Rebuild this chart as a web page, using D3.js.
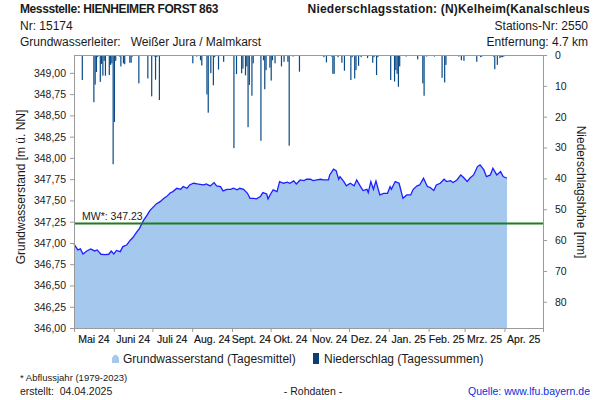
<!DOCTYPE html>
<html><head><meta charset="utf-8">
<script src="https://cdn.jsdelivr.net/npm/d3@7"></script>
<style>
html,body{margin:0;padding:0;background:#fff;}
svg{display:block;font-family:"Liberation Sans",Arial,sans-serif;}
</style></head>
<body>
<svg id="chart" width="600" height="400"></svg>
<script>
// ---------------- data ----------------
const gwDates = ["2024-05-01","2024-05-04","2024-05-06","2024-05-08","2024-05-11","2024-05-14","2024-05-17","2024-05-19","2024-05-22","2024-05-25","2024-05-28","2024-05-30",
"2024-06-01","2024-06-03","2024-06-06","2024-06-08","2024-06-11","2024-06-14","2024-06-16","2024-06-19","2024-06-21","2024-06-24","2024-06-27","2024-06-29",
"2024-07-02","2024-07-04","2024-07-07","2024-07-10","2024-07-12","2024-07-15","2024-07-17","2024-07-20","2024-07-23","2024-07-25","2024-07-28","2024-07-30",
"2024-08-02","2024-08-05","2024-08-07","2024-08-10","2024-08-12","2024-08-15","2024-08-18","2024-08-20","2024-08-23","2024-08-25","2024-08-28","2024-08-31",
"2024-09-02","2024-09-05","2024-09-07","2024-09-10","2024-09-13","2024-09-15","2024-09-18","2024-09-20","2024-09-23","2024-09-25","2024-09-28","2024-09-29",
"2024-10-01","2024-10-03","2024-10-06","2024-10-08","2024-10-11","2024-10-14","2024-10-16","2024-10-19","2024-10-21","2024-10-24","2024-10-27","2024-10-29",
"2024-11-01","2024-11-03","2024-11-06","2024-11-09","2024-11-11","2024-11-15","2024-11-16","2024-11-19","2024-11-21","2024-11-23","2024-11-24","2024-11-27","2024-11-29",
"2024-12-02","2024-12-05","2024-12-07","2024-12-10","2024-12-12","2024-12-15","2024-12-16","2024-12-18","2024-12-20","2024-12-22","2024-12-25","2024-12-28","2024-12-31",
"2025-01-02","2025-01-03","2025-01-06","2025-01-09","2025-01-10","2025-01-12","2025-01-15","2025-01-18","2025-01-20","2025-01-23","2025-01-25","2025-01-28","2025-01-31",
"2025-02-02","2025-02-05","2025-02-07","2025-02-10","2025-02-13","2025-02-15","2025-02-18","2025-02-20","2025-02-23","2025-02-26","2025-02-28",
"2025-03-03","2025-03-05","2025-03-08","2025-03-11","2025-03-13","2025-03-16","2025-03-18","2025-03-21","2025-03-23","2025-03-26","2025-03-29","2025-03-31",
"2025-04-03"];
const gwLevels = [346.985,346.918,346.930,346.871,346.906,346.929,346.906,346.918,346.867,346.863,346.867,346.905,
346.870,346.912,346.898,346.957,346.976,347.035,347.067,347.133,347.172,347.262,347.330,347.380,
347.427,347.459,347.486,347.525,347.545,347.590,347.604,347.643,347.631,347.663,347.643,347.682,
347.702,347.694,347.690,347.682,347.694,347.671,347.710,347.671,347.663,347.612,347.631,347.631,
347.643,347.624,347.643,347.631,347.584,347.525,347.525,347.518,347.545,347.592,347.576,347.518,
347.576,347.624,347.604,347.722,347.702,347.714,347.702,347.730,347.694,347.741,347.733,347.749,
347.749,347.733,347.741,347.749,347.741,347.741,347.800,347.867,347.851,347.749,347.780,347.722,347.671,
347.702,347.671,347.741,347.663,347.616,347.631,347.592,347.722,347.631,347.729,347.565,347.584,347.584,
347.663,347.631,347.722,347.702,347.643,347.525,347.565,347.565,347.631,347.671,347.682,347.761,347.663,
347.655,347.616,347.682,347.702,347.749,347.722,347.733,347.710,347.741,347.800,347.773,
347.722,347.761,347.800,347.898,347.918,347.859,347.780,347.800,347.878,347.800,347.839,347.780,
347.761];

const prDates = ["2024-05-07","2024-05-08","2024-05-16","2024-05-17","2024-05-18","2024-05-19","2024-05-21","2024-05-22","2024-05-23","2024-05-24","2024-05-25","2024-05-28","2024-05-29","2024-05-30","2024-05-31",
"2024-06-01","2024-06-02","2024-06-05","2024-06-06","2024-06-08","2024-06-09","2024-06-13","2024-06-14","2024-06-15","2024-06-20","2024-06-27","2024-06-30",
"2024-07-02","2024-07-03","2024-07-04","2024-07-06","2024-07-07",
"2024-08-01","2024-08-04","2024-08-07","2024-08-08","2024-08-12","2024-08-13","2024-08-15","2024-08-17","2024-08-18","2024-08-21","2024-08-25",
"2024-09-02","2024-09-04","2024-09-08","2024-09-09","2024-09-11","2024-09-12","2024-09-13","2024-09-14","2024-09-16","2024-09-17","2024-09-23","2024-09-25","2024-09-26","2024-09-27","2024-09-30",
"2024-10-01","2024-10-02","2024-10-04","2024-10-09","2024-10-11","2024-10-14","2024-10-15","2024-10-18","2024-10-23",
"2024-11-11","2024-11-13","2024-11-17","2024-11-18","2024-11-19","2024-11-22","2024-11-25","2024-11-27",
"2024-12-02","2024-12-03","2024-12-05","2024-12-06","2024-12-08","2024-12-10","2024-12-15","2024-12-19","2024-12-20","2024-12-22","2024-12-23",
"2025-01-02","2025-01-05","2025-01-06","2025-01-07","2025-01-08","2025-01-09","2025-01-14","2025-01-23","2025-01-27","2025-01-28","2025-01-30",
"2025-02-05","2025-02-11","2025-02-13","2025-02-14","2025-02-24","2025-02-26","2025-02-28",
"2025-03-10","2025-03-13","2025-03-14","2025-03-23","2025-03-24","2025-03-26","2025-03-28","2025-03-29","2025-03-30","2025-03-31"];
const prValues = [8.1,0.2,15.3,9.6,5.5,0.7,8.7,2.9,6.7,1.9,6.7,6.5,3.2,2.7,35.4,
21.7,1.9,0.5,3.7,2.7,3.0,2.5,2.5,0.5,9.2,7.6,13.4,
0.5,8.0,0.7,14.6,0.3,
2.7,0.5,1.7,3.4,12.8,18.7,5.9,9.8,0.7,4.7,2.2,
30.2,6.2,5.9,4.4,6.6,3.7,23.4,9.7,13.2,2.7,27.8,1.7,11.1,4.9,4.1,
8.3,1.7,2.7,3.7,2.2,2.2,29.4,0.5,5.4,
0.7,2.4,0.5,6.1,6.1,0.7,2.5,5.1,
8.1,0.7,7.6,4.9,3.5,0.7,1.0,2.5,0.7,6.5,0.7,
8.1,8.6,4.9,6.1,10.3,3.7,0.5,1.4,9.2,13.2,0.5,
0.5,7.4,8.9,3.2,0.5,1.7,1.9,
2.2,0.7,0.5,0.5,4.6,3.2,1.0,0.7,0.7,0.5];

const monthLabels = ["Mai 24","Juni 24","Juli 24","Aug. 24","Sept. 24","Okt. 24","Nov. 24","Dez. 24","Jan. 25","Feb. 25","Mrz. 25","Apr. 25"];
const levelTicks = [346.00,346.25,346.50,346.75,347.00,347.25,347.50,347.75,348.00,348.25,348.50,348.75,349.00];
const precipTicks = [0,10,20,30,40,50,60,70,80];
const meanLevel = 347.23;
const meanLabel = "MW*: 347.23";
const headerLeft = ["Messstelle: HIENHEIMER FORST 863","Nr: 15174","Grundwasserleiter:   Weißer Jura / Malmkarst"];
const headerRight = ["Niederschlagsstation: (N)Kelheim(Kanalschleus","Stations-Nr: 2550","Entfernung: 4.7 km"];
const legendLabels = ["Grundwasserstand (Tagesmittel)","Niederschlag (Tagessummen)"];

// ---------------- layout ----------------
const svg = d3.select("#chart");
const L = 74, R = 543, T = 55, B = 328;
const font = '"Liberation Sans",Arial,sans-serif';
const parse = d3.utcParse("%Y-%m-%d");
const axisCol = "#9a9a9a", textCol = "#1a1a1a";

const x = d3.scaleUtc().domain([parse("2024-05-01"), parse("2025-05-01")]).range([L, R]);
const y = d3.scaleLinear().domain([346, 349.21]).range([B, T]);
const yP = d3.scaleLinear().domain([0, 88.5]).range([T, B]);

const gw = gwDates.map((d,i)=>({date:parse(d), v:gwLevels[i]}));
const pr = prDates.map((d,i)=>({date:parse(d), v:prValues[i]}));

// area
svg.append("path").datum(gw)
  .attr("fill","#a5c8ef")
  .attr("d", d3.area().x(d=>x(d.date)).y0(B).y1(d=>y(d.v)));

// precipitation bars
svg.append("g").selectAll("rect").data(pr).join("rect")
  .attr("x", d=>x(d.date))
  .attr("y", T)
  .attr("width", 1.2)
  .attr("height", d=>yP(d.v)-T)
  .attr("fill","#0a4a86");

// line
svg.append("path").datum(gw)
  .attr("fill","none").attr("stroke","#1e1eff").attr("stroke-width",1.3)
  .attr("d", d3.line().x(d=>x(d.date)).y(d=>y(d.v)));

// mean line
svg.append("line").attr("x1",L).attr("x2",R).attr("y1",y(meanLevel)).attr("y2",y(meanLevel))
  .attr("stroke","#1b7d1b").attr("stroke-width",2);
svg.append("text").attr("x",L+8).attr("y",y(meanLevel)-3.5)
  .attr("font-size","10.5px").attr("fill",textCol).text(meanLabel);

// frame top
svg.append("line").attr("x1",L).attr("x2",R+0.5).attr("y1",T+0.5).attr("y2",T+0.5).attr("stroke",axisCol);

// axes
const fmt = d3.formatLocale({decimal:",",thousands:".",grouping:[3],currency:["","€"]}).format(".2f");
const gL = svg.append("g").attr("transform",`translate(${L},0)`)
  .call(d3.axisLeft(y).tickValues(levelTicks).tickFormat(fmt).tickSize(4).tickSizeOuter(0).tickPadding(4));
const gR = svg.append("g").attr("transform",`translate(${R},0)`)
  .call(d3.axisRight(yP).tickValues(precipTicks).tickSize(4).tickSizeOuter(0).tickPadding(8));
const monthStarts = d3.utcMonth.range(parse("2024-05-01"), parse("2025-05-02"));
const gB = svg.append("g").attr("transform",`translate(0,${B})`)
  .call(d3.axisBottom(x).tickValues(monthStarts).tickFormat("").tickSize(4).tickSizeOuter(0));
[gL,gR,gB].forEach(g=>{
  g.selectAll(".domain,line").attr("stroke",axisCol);
  g.selectAll("text").attr("font-family",font).attr("font-size","10.5px").attr("fill",textCol);
});
// month labels centred in each month
svg.append("g").selectAll("text").data(monthLabels).join("text")
  .attr("x",(d,i)=>(x(monthStarts[i])+x(monthStarts[i+1]))/2)
  .attr("y",B+15).attr("text-anchor","middle")
  .attr("font-size","10.5px").attr("fill","#111").attr("stroke","#111").attr("stroke-width",0.15).text(d=>d);

// axis titles
svg.append("text").attr("transform","translate(25,187) rotate(-90)").attr("text-anchor","middle")
  .attr("font-size","12px").attr("fill",textCol).text("Grundwasserstand [m ü. NN]");
svg.append("text").attr("transform","translate(577,192) rotate(90)").attr("text-anchor","middle")
  .attr("font-size","12px").attr("fill",textCol).text("Niederschlagshöhe [mm]");

// header
svg.append("text").attr("x",20).attr("y",13).attr("font-size","12px").attr("font-weight","bold").attr("letter-spacing","-0.4").attr("fill",textCol).text(headerLeft[0]);
svg.append("text").attr("x",20).attr("y",30).attr("font-size","12px").attr("fill",textCol).text(headerLeft[1]);
svg.append("text").attr("x",20).attr("y",46).attr("font-size","12px").attr("fill",textCol).attr("xml:space","preserve").text(headerLeft[2]);
svg.append("text").attr("x",590).attr("y",13).attr("text-anchor","end").attr("font-size","12px").attr("font-weight","bold").attr("letter-spacing","0.2").attr("fill",textCol).text(headerRight[0]);
svg.append("text").attr("x",588).attr("y",30).attr("text-anchor","end").attr("font-size","12px").attr("fill",textCol).text(headerRight[1]);
svg.append("text").attr("x",588).attr("y",46).attr("text-anchor","end").attr("font-size","12px").attr("fill",textCol).text(headerRight[2]);

// legend
svg.append("path").attr("d","M112,363 L112,358 Q115.5,351 119,358 L119,363 Z").attr("fill","#a5c8ef");
svg.append("text").attr("x",123).attr("y",363).attr("font-size","12px").attr("fill",textCol).text(legendLabels[0]);
svg.append("rect").attr("x",313).attr("y",353).attr("width",6).attr("height",11).attr("fill","#0b3f74");
svg.append("text").attr("x",324).attr("y",363).attr("font-size","12px").attr("fill",textCol).text(legendLabels[1]);

// footer
svg.append("text").attr("x",20).attr("y",381).attr("font-size","9.5px").attr("fill",textCol).text("* Abflussjahr (1979-2023)");
svg.append("text").attr("x",20).attr("y",395).attr("font-size","10.5px").attr("fill",textCol).attr("xml:space","preserve").text("erstellt:  04.04.2025");
svg.append("text").attr("x",313).attr("y",395).attr("text-anchor","middle").attr("font-size","10.5px").attr("fill",textCol).text("- Rohdaten -");
svg.append("text").attr("x",590).attr("y",395).attr("text-anchor","end").attr("font-size","10.5px").attr("fill","#0a2ee0").text("Quelle: www.lfu.bayern.de");
</script>
</body></html>
